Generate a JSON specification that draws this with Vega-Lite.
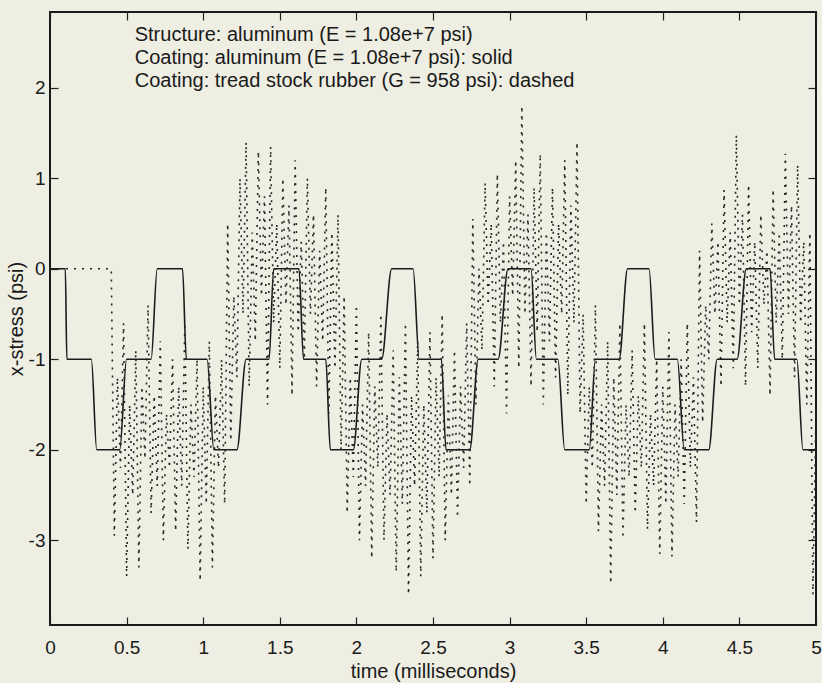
{
  "$schema": "https://vega.github.io/schema/vega-lite/v6.json",
  "width": 766,
  "height": 613,
  "autosize": "none",
  "padding": {"left": 50, "top": 12, "right": 6, "bottom": 58},
  "background": "#efeee3",
  "config": {
    "view": {"stroke": "#1a1a1a", "strokeWidth": 2},
    "font": "Liberation Sans",
    "axis": {
      "grid": false,
      "domain": false,
      "ticks": true,
      "tickColor": "#222222",
      "tickSize": -8,
      "tickWidth": 1.2,
      "labelFont": "Liberation Sans",
      "labelFontSize": 19,
      "labelColor": "#1a1a1a",
      "labelFlush": false,
      "labelOverlap": false,
      "titleFont": "Liberation Sans",
      "titleFontSize": 20,
      "titleFontWeight": "normal",
      "titleColor": "#1a1a1a"
    }
  },
  "datasets": {
    "aluminum": [
      {"t": 0, "v": 0}, {"t": 0.1, "v": 0}, {"t": 0.11, "v": -1}, {"t": 0.27, "v": -1},
      {"t": 0.305, "v": -2}, {"t": 0.455, "v": -2}, {"t": 0.5, "v": -1}, {"t": 0.66, "v": -1},
      {"t": 0.7, "v": 0}, {"t": 0.865, "v": 0}, {"t": 0.89, "v": -1}, {"t": 1.025, "v": -1},
      {"t": 1.07, "v": -2}, {"t": 1.22, "v": -2}, {"t": 1.28, "v": -1}, {"t": 1.43, "v": -1},
      {"t": 1.46, "v": 0}, {"t": 1.625, "v": 0}, {"t": 1.655, "v": -1}, {"t": 1.8, "v": -1},
      {"t": 1.83, "v": -2}, {"t": 1.98, "v": -2}, {"t": 2.035, "v": -1}, {"t": 2.165, "v": -1},
      {"t": 2.23, "v": 0}, {"t": 2.37, "v": 0}, {"t": 2.41, "v": -1}, {"t": 2.555, "v": -1},
      {"t": 2.585, "v": -2}, {"t": 2.74, "v": -2}, {"t": 2.795, "v": -1}, {"t": 2.925, "v": -1},
      {"t": 2.99, "v": 0}, {"t": 3.14, "v": 0}, {"t": 3.175, "v": -1}, {"t": 3.315, "v": -1},
      {"t": 3.36, "v": -2}, {"t": 3.52, "v": -2}, {"t": 3.56, "v": -1}, {"t": 3.715, "v": -1},
      {"t": 3.77, "v": 0}, {"t": 3.91, "v": 0}, {"t": 3.95, "v": -1}, {"t": 4.095, "v": -1},
      {"t": 4.14, "v": -2}, {"t": 4.3, "v": -2}, {"t": 4.355, "v": -1}, {"t": 4.485, "v": -1},
      {"t": 4.545, "v": 0}, {"t": 4.7, "v": 0}, {"t": 4.73, "v": -1}, {"t": 4.875, "v": -1},
      {"t": 4.915, "v": -2}, {"t": 5.0, "v": -2}
    ],
    "rubber": [
      {"t": 0, "v": 0}, {"t": 0.38, "v": 0}, {"t": 0.4, "v": 0.0},
      {"t": 0.42, "v": -2.95}, {"t": 0.44, "v": -1.2}, {"t": 0.46, "v": -2.2}, {"t": 0.48, "v": -0.6},
      {"t": 0.5, "v": -3.4}, {"t": 0.52, "v": -1.5}, {"t": 0.54, "v": -2.5}, {"t": 0.56, "v": -0.9},
      {"t": 0.58, "v": -3.3}, {"t": 0.6, "v": -1.3}, {"t": 0.62, "v": -2.1}, {"t": 0.64, "v": -0.4},
      {"t": 0.66, "v": -2.7}, {"t": 0.68, "v": -1.4}, {"t": 0.7, "v": -2.4}, {"t": 0.72, "v": -0.8},
      {"t": 0.74, "v": -3.0}, {"t": 0.76, "v": -1.6}, {"t": 0.78, "v": -2.2}, {"t": 0.8, "v": -1.0},
      {"t": 0.82, "v": -2.9}, {"t": 0.84, "v": -1.3}, {"t": 0.86, "v": -2.4}, {"t": 0.88, "v": -0.6},
      {"t": 0.9, "v": -3.1}, {"t": 0.92, "v": -1.5}, {"t": 0.94, "v": -2.3}, {"t": 0.96, "v": -1.0},
      {"t": 0.98, "v": -3.45}, {"t": 1.0, "v": -1.3}, {"t": 1.02, "v": -2.6}, {"t": 1.04, "v": -0.8},
      {"t": 1.06, "v": -3.3}, {"t": 1.08, "v": -1.4}, {"t": 1.1, "v": -2.2}, {"t": 1.12, "v": -1.0},
      {"t": 1.14, "v": -2.6},
      {"t": 1.16, "v": 0.5}, {"t": 1.18, "v": -1.9}, {"t": 1.2, "v": -0.3}, {"t": 1.22, "v": -1.2},
      {"t": 1.24, "v": 1.0}, {"t": 1.26, "v": -0.5}, {"t": 1.28, "v": 1.4}, {"t": 1.3, "v": -1.3},
      {"t": 1.32, "v": 0.4}, {"t": 1.34, "v": -0.8}, {"t": 1.36, "v": 1.3}, {"t": 1.38, "v": -0.3},
      {"t": 1.4, "v": 0.8}, {"t": 1.42, "v": -1.5}, {"t": 1.44, "v": 1.35}, {"t": 1.46, "v": -0.6},
      {"t": 1.48, "v": 0.5}, {"t": 1.5, "v": -1.1}, {"t": 1.52, "v": 1.0}, {"t": 1.54, "v": -0.4},
      {"t": 1.56, "v": 0.7}, {"t": 1.58, "v": -1.4}, {"t": 1.6, "v": 1.2}, {"t": 1.62, "v": -0.7},
      {"t": 1.64, "v": 0.3}, {"t": 1.66, "v": -1.0}, {"t": 1.68, "v": 1.0}, {"t": 1.7, "v": -0.5},
      {"t": 1.72, "v": 0.6}, {"t": 1.74, "v": -1.3}, {"t": 1.76, "v": 0.2}, {"t": 1.78, "v": -0.8},
      {"t": 1.8, "v": 0.9}, {"t": 1.82, "v": -1.6}, {"t": 1.84, "v": 0.4}, {"t": 1.86, "v": -1.1},
      {"t": 1.88, "v": 0.6}, {"t": 1.9, "v": -2.0},
      {"t": 1.92, "v": -0.3}, {"t": 1.94, "v": -2.7}, {"t": 1.96, "v": -1.2}, {"t": 1.98, "v": -2.3},
      {"t": 2.0, "v": -0.4}, {"t": 2.02, "v": -3.0}, {"t": 2.04, "v": -1.5}, {"t": 2.06, "v": -2.4},
      {"t": 2.08, "v": -0.7}, {"t": 2.1, "v": -3.2}, {"t": 2.12, "v": -1.3}, {"t": 2.14, "v": -2.2},
      {"t": 2.16, "v": -0.5}, {"t": 2.18, "v": -3.0}, {"t": 2.2, "v": -1.6}, {"t": 2.22, "v": -2.5},
      {"t": 2.24, "v": -0.9}, {"t": 2.26, "v": -3.35}, {"t": 2.28, "v": -1.2}, {"t": 2.3, "v": -2.6},
      {"t": 2.32, "v": -0.6}, {"t": 2.34, "v": -3.6}, {"t": 2.36, "v": -1.4}, {"t": 2.38, "v": -2.4},
      {"t": 2.4, "v": -0.8}, {"t": 2.42, "v": -3.4}, {"t": 2.44, "v": -1.5}, {"t": 2.46, "v": -2.7},
      {"t": 2.48, "v": -0.7}, {"t": 2.5, "v": -3.2}, {"t": 2.52, "v": -1.2}, {"t": 2.54, "v": -2.3},
      {"t": 2.56, "v": -0.5}, {"t": 2.58, "v": -3.0}, {"t": 2.6, "v": -1.4}, {"t": 2.62, "v": -2.5},
      {"t": 2.64, "v": -0.9}, {"t": 2.66, "v": -2.75}, {"t": 2.68, "v": -1.3}, {"t": 2.7, "v": -2.2},
      {"t": 2.72, "v": -0.6}, {"t": 2.74, "v": -2.4},
      {"t": 2.76, "v": 0.55}, {"t": 2.78, "v": -1.5}, {"t": 2.8, "v": 0.0}, {"t": 2.82, "v": -0.9},
      {"t": 2.84, "v": 0.95}, {"t": 2.86, "v": -0.4}, {"t": 2.88, "v": 0.5}, {"t": 2.9, "v": -1.3},
      {"t": 2.92, "v": 1.05}, {"t": 2.94, "v": -0.6}, {"t": 2.96, "v": 0.3}, {"t": 2.98, "v": -1.6},
      {"t": 3.0, "v": 0.8}, {"t": 3.02, "v": -0.3}, {"t": 3.04, "v": 1.2}, {"t": 3.06, "v": -1.1},
      {"t": 3.08, "v": 1.8}, {"t": 3.1, "v": -0.5}, {"t": 3.12, "v": 0.6}, {"t": 3.14, "v": -1.3},
      {"t": 3.16, "v": 0.9}, {"t": 3.18, "v": -0.7}, {"t": 3.2, "v": 1.27}, {"t": 3.22, "v": -1.5},
      {"t": 3.24, "v": 0.4}, {"t": 3.26, "v": -0.8}, {"t": 3.28, "v": 0.9}, {"t": 3.3, "v": -1.2},
      {"t": 3.32, "v": 0.5}, {"t": 3.34, "v": -0.5}, {"t": 3.36, "v": 1.2}, {"t": 3.38, "v": -1.4},
      {"t": 3.4, "v": 0.7}, {"t": 3.42, "v": -0.6}, {"t": 3.44, "v": 1.4}, {"t": 3.46, "v": -1.6},
      {"t": 3.48, "v": -0.5}, {"t": 3.5, "v": -2.6}, {"t": 3.52, "v": -1.3}, {"t": 3.54, "v": -2.2},
      {"t": 3.56, "v": -0.4}, {"t": 3.58, "v": -2.9}, {"t": 3.6, "v": -1.5}, {"t": 3.62, "v": -2.4},
      {"t": 3.64, "v": -0.8}, {"t": 3.66, "v": -3.48}, {"t": 3.68, "v": -1.2}, {"t": 3.7, "v": -2.5},
      {"t": 3.72, "v": -0.6}, {"t": 3.74, "v": -2.98}, {"t": 3.76, "v": -1.5}, {"t": 3.78, "v": -2.3},
      {"t": 3.8, "v": -0.9}, {"t": 3.82, "v": -2.7}, {"t": 3.84, "v": -1.4}, {"t": 3.86, "v": -2.2},
      {"t": 3.88, "v": -0.6}, {"t": 3.9, "v": -2.88}, {"t": 3.92, "v": -1.6}, {"t": 3.94, "v": -2.4},
      {"t": 3.96, "v": -1.0}, {"t": 3.98, "v": -3.15}, {"t": 4.0, "v": -1.3}, {"t": 4.02, "v": -2.6},
      {"t": 4.04, "v": -0.7}, {"t": 4.06, "v": -3.18}, {"t": 4.08, "v": -1.5}, {"t": 4.1, "v": -2.3},
      {"t": 4.12, "v": -1.0}, {"t": 4.14, "v": -2.6}, {"t": 4.16, "v": -0.6}, {"t": 4.18, "v": -2.2},
      {"t": 4.2, "v": -1.2}, {"t": 4.22, "v": -2.8},
      {"t": 4.24, "v": 0.2}, {"t": 4.26, "v": -1.7}, {"t": 4.28, "v": -0.4}, {"t": 4.3, "v": -1.0},
      {"t": 4.32, "v": 0.5}, {"t": 4.34, "v": -0.5}, {"t": 4.36, "v": 0.3}, {"t": 4.38, "v": -1.3},
      {"t": 4.4, "v": 0.87}, {"t": 4.42, "v": -0.6}, {"t": 4.44, "v": 0.4}, {"t": 4.46, "v": -1.1},
      {"t": 4.48, "v": 1.48}, {"t": 4.5, "v": -0.4}, {"t": 4.52, "v": 0.6}, {"t": 4.54, "v": -1.3},
      {"t": 4.56, "v": 0.93}, {"t": 4.58, "v": -0.7}, {"t": 4.6, "v": 0.3}, {"t": 4.62, "v": -1.1},
      {"t": 4.64, "v": 0.6}, {"t": 4.66, "v": -0.4}, {"t": 4.68, "v": 0.2}, {"t": 4.7, "v": -1.4},
      {"t": 4.72, "v": 0.88}, {"t": 4.74, "v": -0.6}, {"t": 4.76, "v": 0.4}, {"t": 4.78, "v": -1.0},
      {"t": 4.8, "v": 1.27}, {"t": 4.82, "v": -0.5}, {"t": 4.84, "v": 0.7}, {"t": 4.86, "v": -1.2},
      {"t": 4.88, "v": 1.15}, {"t": 4.9, "v": -0.6}, {"t": 4.92, "v": 0.3}, {"t": 4.94, "v": -1.5},
      {"t": 4.96, "v": 0.4}, {"t": 4.98, "v": -3.6}, {"t": 5.0, "v": -1.5}
    ]
  },
  "layer": [
    {
      "data": {"name": "aluminum"},
      "mark": {"type": "line", "interpolate": "monotone", "color": "#1c1c1c", "strokeWidth": 1.6},
      "encoding": {
        "x": {
          "field": "t", "type": "quantitative",
          "scale": {"domain": [0, 5], "nice": false, "zero": false},
          "axis": {
            "orient": "bottom",
            "values": [0, 0.5, 1, 1.5, 2, 2.5, 3, 3.5, 4, 4.5, 5],
            "labelExpr": "'' + datum.value",
            "labelPadding": 21.6,
            "title": "time (milliseconds)",
            "titlePadding": 4
          }
        },
        "y": {
          "field": "v", "type": "quantitative",
          "scale": {"domain": [-3.936, 2.837], "nice": false, "zero": false},
          "axis": {
            "orient": "left",
            "values": [-3, -2, -1, 0, 1, 2],
            "labelExpr": "'' + datum.value",
            "labelPadding": 13,
            "title": "x-stress (psi)",
            "titlePadding": 2
          }
        }
      }
    },
    {
      "data": {"name": "rubber"},
      "mark": {"type": "line", "color": "#262626", "strokeWidth": 1.6, "strokeDash": [2, 6]},
      "encoding": {
        "x": {
          "field": "t", "type": "quantitative",
          "scale": {"domain": [0, 5], "nice": false, "zero": false},
          "axis": {
            "orient": "top",
            "values": [0, 0.5, 1, 1.5, 2, 2.5, 3, 3.5, 4, 4.5, 5],
            "labels": false,
            "title": null
          }
        },
        "y": {
          "field": "v", "type": "quantitative",
          "scale": {"domain": [-3.936, 2.837], "nice": false, "zero": false},
          "axis": {
            "orient": "right",
            "values": [-3, -2, -1, 0, 1, 2],
            "labels": false,
            "title": null
          }
        }
      }
    },
    {
      "data": {"values": [{"note": "materials"}]},
      "mark": {
        "type": "text",
        "align": "left",
        "baseline": "top",
        "font": "Liberation Sans",
        "fontSize": 20,
        "lineHeight": 22.7,
        "color": "#1a1a1a"
      },
      "encoding": {
        "x": {"datum": 0.553, "type": "quantitative", "axis": null},
        "y": {"datum": 2.69, "type": "quantitative", "axis": null},
        "text": {"value": [
          "Structure: aluminum (E = 1.08e+7 psi)",
          "Coating: aluminum (E = 1.08e+7 psi): solid",
          "Coating: tread stock rubber (G = 958 psi): dashed"
        ]}
      }
    }
  ],
  "resolve": {"axis": {"x": "independent", "y": "independent"}}
}
